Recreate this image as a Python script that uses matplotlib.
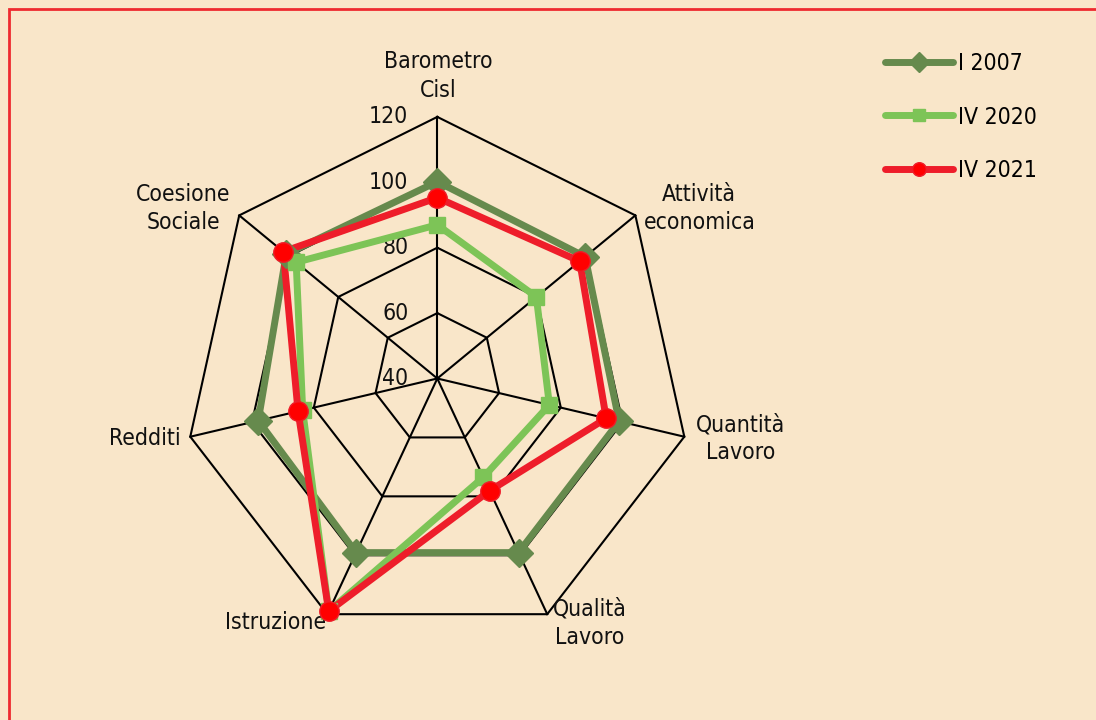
import numpy as np
import matplotlib
matplotlib.use("Agg")
import matplotlib.pyplot as plt
from matplotlib.lines import Line2D
from matplotlib.patches import Rectangle

plt.rcParams['font.family'] = ['DejaVu Sans']
plt.rcParams['font.stretch'] = 'condensed'

# Data
categories = ['Barometro\nCisl', 'Attività\neconomica', 'Quantità\nLavoro', 'Qualità\nLavoro',
              'Istruzione', 'Redditi', 'Coesione\nSociale']
series_names = ['I 2007', 'IV 2020', 'IV 2021']
vals_2007 = [100.2, 99.7, 98.9, 99.1, 99.1, 98.0, 101.0]
vals_2020 = [87.0, 80.0, 76.3, 73.5, 119.0, 83.6, 97.0]
vals_2021 = [95.3, 97.5, 94.7, 78.1, 119.0, 85.1, 102.2]
ticks = [40, 60, 80, 100, 120]
r_min, r_max = 40, 120

# Styling
bg = '#F9E6C9'
col_2007 = '#668A4D'
col_2020 = '#7DC457'
col_2021 = '#EE1D2A'
fs = 16.5

W, H = 1096, 720
fig = plt.figure(figsize=(W / 100, H / 100), dpi=100, facecolor=bg)
ax = fig.add_axes([0, 0, 1, 1])
ax.set_facecolor(bg)
ax.axis('off')

# pixel scale of the (slightly stretched) radar
cx, cy = 437.3, 378.5
sx, sy = 3.167, 3.27
ax.set_xlim(-cx / sx, (W - cx) / sx)
ax.set_ylim(-(H - cy) / sy, cy / sy)

n = len(categories)
ang = np.arange(n) * 2 * np.pi / n


def to_xy(values):
    r = np.asarray(values, dtype=float) - r_min
    return r * np.sin(ang), r * np.cos(ang)


# grid rings and spokes
for t in ticks[1:]:
    gx, gy = to_xy([t] * n)
    ax.plot(np.append(gx, gx[0]), np.append(gy, gy[0]), color='black', lw=1.5, zorder=1)
ox, oy = to_xy([r_max] * n)
for x, y in zip(ox, oy):
    ax.plot([0, x], [0, y], color='black', lw=1.5, zorder=1)

# radial tick labels
for t in ticks:
    ax.annotate(str(t), xy=(0, t - r_min), xytext=(-29, 0), textcoords='offset pixels',
                ha='right', va='center', fontsize=fs, color='#111111', zorder=2)

# category labels
offsets = [(1, 41, 'center'), (8, 7, 'left'), (12, -2, 'left'), (6, -9, 'left'),
           (-1, -8, 'right'), (-10, -2, 'right'), (-9, 7, 'right')]
for lab, x, y, (dx, dy, ha) in zip(categories, ox, oy, offsets):
    ax.annotate(lab, xy=(x, y), xytext=(dx, dy), textcoords='offset pixels',
                ha=ha, va='center', multialignment='center', fontsize=fs,
                linespacing=1.3, color='#111111', zorder=2)

# series
series = [
    (vals_2007, col_2007, 'D', 14, col_2007, col_2007),
    (vals_2020, col_2020, 's', 12, col_2020, col_2020),
    (vals_2021, col_2021, 'o', 14, '#FF0000', col_2021),
]
handles = []
for (vals, c, m, ms, mfc, mec), name in zip(series, series_names):
    px, py = to_xy(vals)
    ax.plot(np.append(px, px[0]), np.append(py, py[0]), color=c, lw=5,
            solid_joinstyle='round', zorder=3)
    ax.plot(px, py, ls='none', marker=m, ms=ms, mfc=mfc, mec=mec, mew=1, zorder=4)
    handles.append(Line2D([], [], color=c, lw=5, solid_capstyle='round',
                          marker=m, ms=ms * 0.7, mfc=mfc, mec=mec, label=name))

fig.legend(handles=handles, loc='center left', bbox_to_anchor=(885 / W, 1 - 117 / H),
           frameon=False, fontsize=fs, handlelength=2.95, handletextpad=0.25,
           labelspacing=1.35, borderpad=0, borderaxespad=0, numpoints=1)

# red frame (top and left edges visible)
fig.patches.append(Rectangle((8.5 / W, -0.1), 1.2, 1 - 9 / H + 0.1, transform=fig.transFigure,
                             fill=False, edgecolor='#EE2A2F', lw=2, zorder=10))

fig.savefig('out.png', dpi=100, facecolor=bg)
